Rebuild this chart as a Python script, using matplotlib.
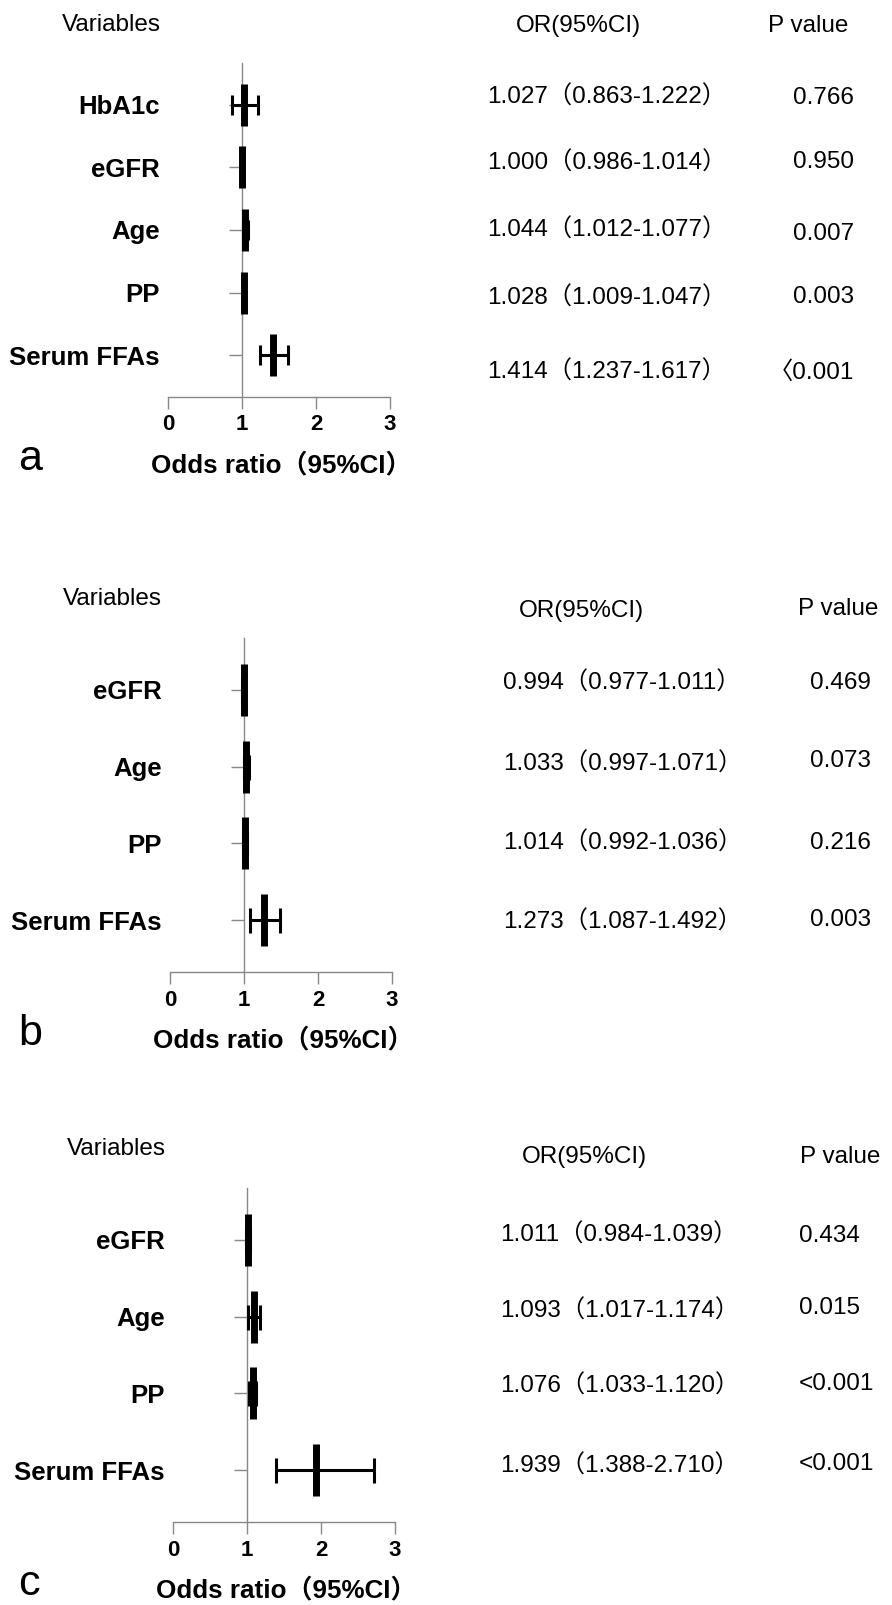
import matplotlib.pyplot as plt

# ---------------- data ----------------
labels_a = ['HbA1c', 'eGFR', 'Age', 'PP', 'Serum FFAs']
or_a = [1.027, 1.000, 1.044, 1.028, 1.414]
lo_a = [0.863, 0.986, 1.012, 1.009, 1.237]
hi_a = [1.222, 1.014, 1.077, 1.047, 1.617]
p_a = ['0.766', '0.950', '0.007', '0.003', '〈0.001']

labels_b = ['eGFR', 'Age', 'PP', 'Serum FFAs']
or_b = [0.994, 1.033, 1.014, 1.273]
lo_b = [0.977, 0.997, 0.992, 1.087]
hi_b = [1.011, 1.071, 1.036, 1.492]
p_b = ['0.469', '0.073', '0.216', '0.003']

labels_c = ['eGFR', 'Age', 'PP', 'Serum FFAs']
or_c = [1.011, 1.093, 1.076, 1.939]
lo_c = [0.984, 1.017, 1.033, 1.388]
hi_c = [1.039, 1.174, 1.120, 2.710]
p_c = ['0.434', '0.015', '<0.001', '<0.001']

xticks = [0, 1, 2, 3]

# ---------------- layout (pixels) ----------------
W, H = 892, 1605
plt.rcParams['font.family'] = ['Liberation Sans', 'Noto Sans CJK SC']
GRAY = '#888888'

fig = plt.figure(figsize=(W / 100, H / 100), dpi=100)


def ftext(x, y, s, **kw):
    kw.setdefault('va', 'baseline')
    kw.setdefault('fontsize', 17.5)
    fig.text(x / W, 1 - y / H, s, **kw)


panels = [
    dict(letter='a', labels=labels_a, orv=or_a, lo=lo_a, hi=hi_a, p=p_a,
         x0=168, x3=390, top=63, axis=397, box=30, cap=7.2,
         var_xy=(62, 31), orh_xy=(516, 32), ph_xy=(768, 32),
         or_x=487, or_y=[104, 170, 237, 305, 379],
         p_x=854, p_ha='right', p_y=[104, 168, 240, 303, 379]),
    dict(letter='b', labels=labels_b, orv=or_b, lo=lo_b, hi=hi_b, p=p_b,
         x0=170, x3=392, top=638, axis=972, box=37, cap=9,
         var_xy=(63, 605), orh_xy=(519, 617), ph_xy=(798, 615),
         or_x=503, or_y=[690, 771, 850, 929],
         p_x=810, p_ha='left', p_y=[689, 767, 849, 926]),
    dict(letter='c', labels=labels_c, orv=or_c, lo=lo_c, hi=hi_c, p=p_c,
         x0=173, x3=395, top=1188, axis=1522, box=37, cap=9,
         var_xy=(67, 1155), orh_xy=(522, 1163), ph_xy=(800, 1163),
         or_x=500, or_y=[1242, 1318, 1393, 1473],
         p_x=799, p_ha='left', p_y=[1242, 1314, 1390, 1470]),
]

for pn in panels:
    n = len(pn['labels'])
    rows = list(range(n))
    ax = fig.add_axes([pn['x0'] / W, 1 - pn['axis'] / H,
                       (pn['x3'] - pn['x0']) / W, (pn['axis'] - pn['top']) / H])
    ax.set_xlim(0, 3)
    ax.set_ylim(n - 1 + 0.67, -0.67)

    # forest marks
    xerr = [[o - l for o, l in zip(pn['orv'], pn['lo'])],
            [h - o for o, h in zip(pn['orv'], pn['hi'])]]
    ax.errorbar(pn['orv'], rows, xerr=xerr, fmt='none', ecolor='black',
                elinewidth=2.2, capsize=pn['cap'], capthick=2.2, zorder=3)
    ax.plot(pn['orv'], rows, ls='none', marker='|', ms=pn['box'], mew=5,
            color='black', zorder=4)

    # axes styling
    for s in ['top', 'right']:
        ax.spines[s].set_visible(False)
    ax.spines['left'].set_position(('data', 1))
    for s in ['left', 'bottom']:
        ax.spines[s].set_color(GRAY)
        ax.spines[s].set_linewidth(1)
    ax.set_xticks(xticks)
    ax.set_xticklabels([str(t) for t in xticks], fontweight='bold', fontsize=16)
    ax.tick_params(axis='x', length=8.6, width=1, color=GRAY, pad=4)
    ax.set_yticks(rows)
    ax.set_yticklabels(pn['labels'], fontweight='bold', fontsize=18.5)
    ax.tick_params(axis='y', length=9.4, width=1, color=GRAY, pad=50)
    ax.patch.set_visible(False)

    # x label and panel letter
    xc = (pn['x0'] + pn['x3']) / 2
    ftext(xc + 2, pn['axis'] + 75, 'Odds ratio（95%CI）', ha='center',
          fontweight='bold', fontsize=18.7)
    ftext(18, pn['axis'] + 73, pn['letter'], fontsize=31)

    # headers
    ftext(*pn['var_xy'], 'Variables')
    ftext(*pn['orh_xy'], 'OR(95%CI)')
    ftext(*pn['ph_xy'], 'P value')

    # table text
    for i in range(n):
        s = f"{pn['orv'][i]:.3f}（{pn['lo'][i]:.3f}-{pn['hi'][i]:.3f}）"
        ftext(pn['or_x'], pn['or_y'][i], s)
        ftext(pn['p_x'], pn['p_y'][i], pn['p'][i], ha=pn['p_ha'])

fig.savefig('out.png', dpi=100)
